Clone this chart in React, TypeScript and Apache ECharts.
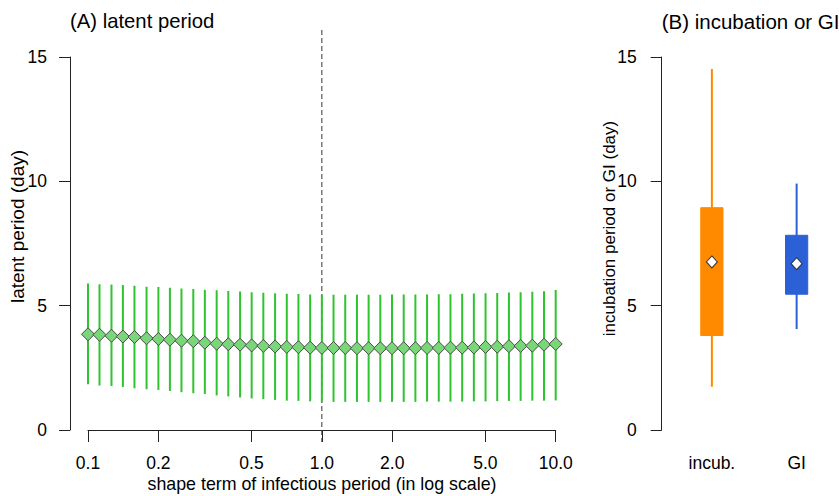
import React, { useEffect, useRef } from "react";
import * as echarts from "echarts";

// Panel A: shape term of infectious period (log grid)
const shapeTerms = [
  0.1, 0.112, 0.126, 0.141, 0.158, 0.178, 0.2, 0.224, 0.251, 0.282, 0.316,
  0.355, 0.398, 0.447, 0.501, 0.562, 0.631, 0.708, 0.794, 0.891, 1.0, 1.122,
  1.259, 1.413, 1.585, 1.778, 1.995, 2.239, 2.512, 2.818, 3.162, 3.548, 3.981,
  4.467, 5.012, 5.623, 6.31, 7.079, 7.943, 8.913, 10.0,
];
const latentMedian = [
  3.85, 3.83, 3.79, 3.76, 3.74, 3.69, 3.66, 3.63, 3.59, 3.57, 3.51, 3.47, 3.45,
  3.43, 3.4, 3.38, 3.36, 3.34, 3.33, 3.31, 3.3, 3.3, 3.3, 3.29, 3.29, 3.29,
  3.29, 3.29, 3.29, 3.3, 3.3, 3.31, 3.31, 3.32, 3.34, 3.35, 3.37, 3.38, 3.39,
  3.43, 3.46,
];
const latentUpper = [
  5.89, 5.86, 5.85, 5.83, 5.8, 5.76, 5.75, 5.72, 5.69, 5.67, 5.64, 5.62, 5.59,
  5.57, 5.54, 5.52, 5.5, 5.48, 5.47, 5.45, 5.44, 5.44, 5.44, 5.44, 5.44, 5.44,
  5.45, 5.45, 5.45, 5.45, 5.46, 5.46, 5.48, 5.49, 5.5, 5.51, 5.53, 5.54, 5.56,
  5.58, 5.63,
];
const latentLower = [
  1.84, 1.79, 1.77, 1.73, 1.68, 1.64, 1.61, 1.57, 1.52, 1.48, 1.45, 1.39, 1.35,
  1.31, 1.27, 1.24, 1.21, 1.18, 1.17, 1.15, 1.13, 1.13, 1.13, 1.13, 1.13, 1.13,
  1.13, 1.13, 1.13, 1.14, 1.14, 1.14, 1.14, 1.15, 1.15, 1.16, 1.17, 1.17, 1.18,
  1.18, 1.19,
];
const xTickValues = [0.1, 0.2, 0.5, 1.0, 2.0, 5.0, 10.0];
const referenceShape = 1.0;

// Panel B
const periodCategories = ["incub.", "GI"];
const periodColors = ["#ff8a00", "#2b60d6"];
const whiskerLow = [1.74, 4.06];
const whiskerHigh = [14.52, 9.91];
const boxLow = [3.8, 5.46];
const boxHigh = [8.94, 7.83];
const periodMedian = [6.76, 6.69];

const FONT = '"Liberation Sans", Arial, Helvetica, sans-serif';

export default function App() {
  const ref = useRef<HTMLDivElement>(null);
  useEffect(() => {
    if (!ref.current) return;
    const chart = echarts.init(ref.current, null, { renderer: "svg" });
    const axisColor = "#222";
    const yAxisCommon = {
      type: "value",
      min: 0,
      max: 15,
      interval: 5,
      splitLine: { show: false },
      axisLine: { show: true, lineStyle: { color: axisColor, width: 1 } },
      axisTick: { show: true, inside: false, length: 11, lineStyle: { color: axisColor } },
      axisLabel: { color: "#000", fontSize: 17.5, fontFamily: FONT, margin: 23 },
    };
    const option: any = {
      animation: false,
      backgroundColor: "#fff",
      textStyle: { fontFamily: FONT },
      grid: [
        { left: 88, top: 57, width: 467.7, height: 373 },
        { left: 669.5, top: 57, width: 192.6, height: 373 },
      ],
      xAxis: [
        {
          type: "log",
          logBase: 10,
          min: 0.1,
          max: 10,
          gridIndex: 0,
          splitLine: { show: false },
          axisLine: { show: true, lineStyle: { color: axisColor, width: 1 } },
          axisTick: {
            show: true,
            inside: false,
            length: 12,
            customValues: xTickValues,
            lineStyle: { color: axisColor },
          },
          axisLabel: {
            customValues: xTickValues,
            color: "#000",
            fontSize: 17.5,
            fontFamily: FONT,
            margin: 24,
            formatter: (v: number) => Number(v).toFixed(1),
          },
          minorTick: { show: false },
        },
        {
          type: "category",
          gridIndex: 1,
          data: periodCategories,
          boundaryGap: true,
          axisLine: { show: false },
          axisTick: { show: false },
          splitLine: { show: false },
          axisLabel: { color: "#000", fontSize: 17.5, fontFamily: FONT, margin: 24 },
        },
      ],
      yAxis: [
        { ...yAxisCommon, gridIndex: 0, offset: 18 },
        { ...yAxisCommon, gridIndex: 1, offset: 7.8, axisLabel: { ...yAxisCommon.axisLabel, margin: 25 } },
      ],
      graphic: [
        {
          type: "text",
          x: 70,
          y: 21,
          style: { text: "(A) latent period", font: `20.3px ${FONT}`, fill: "#000", textAlign: "left", textVerticalAlign: "middle" },
        },
        {
          type: "text",
          x: 661.7,
          y: 21,
          style: { text: "(B) incubation or GI", font: `20.5px ${FONT}`, fill: "#000", textAlign: "left", textVerticalAlign: "middle" },
        },
        {
          type: "text",
          x: 322,
          y: 484,
          style: { text: "shape term of infectious period (in log scale)", font: `17.8px ${FONT}`, fill: "#000", textAlign: "center", textVerticalAlign: "middle" },
        },
        {
          type: "text",
          x: 17,
          y: 226.5,
          rotation: Math.PI / 2,
          style: { text: "latent period (day)", font: `19px ${FONT}`, fill: "#000", textAlign: "center", textVerticalAlign: "middle" },
        },
        {
          type: "text",
          x: 609,
          y: 228.5,
          rotation: Math.PI / 2,
          style: { text: "incubation period or GI (day)", font: `17px ${FONT}`, fill: "#000", textAlign: "center", textVerticalAlign: "middle" },
        },
      ],
      series: [
        {
          type: "custom",
          xAxisIndex: 0,
          yAxisIndex: 0,
          clip: false,
          silent: true,
          data: [[referenceShape]],
          renderItem: (params: any, api: any) => {
            const x = api.coord([api.value(0), 0])[0];
            const cs = params.coordSys;
            return {
              type: "line",
              shape: { x1: x, y1: cs.y - 27, x2: x, y2: cs.y + cs.height + 12 },
              style: { stroke: "#333", lineWidth: 1, lineDash: [5, 3] },
            };
          },
        },
        {
          type: "custom",
          xAxisIndex: 0,
          yAxisIndex: 0,
          clip: false,
          encode: { x: 0, y: [1, 2] },
          data: shapeTerms.map((s, i) => [s, latentLower[i], latentUpper[i]]),
          renderItem: (_params: any, api: any) => {
            const p1 = api.coord([api.value(0), api.value(1)]);
            const p2 = api.coord([api.value(0), api.value(2)]);
            return {
              type: "line",
              shape: { x1: p1[0], y1: p1[1], x2: p2[0], y2: p2[1] },
              style: { stroke: "#2fc42f", lineWidth: 2 },
            };
          },
        },
        {
          type: "scatter",
          xAxisIndex: 0,
          yAxisIndex: 0,
          clip: false,
          symbol: "diamond",
          symbolSize: [13, 13],
          itemStyle: { color: "#79d679", borderColor: "#4a4a4a", borderWidth: 1, opacity: 1 },
          data: shapeTerms.map((s, i) => [s, latentMedian[i]]),
        },
        {
          type: "custom",
          xAxisIndex: 1,
          yAxisIndex: 1,
          clip: false,
          encode: { x: 0, y: [1, 2, 3, 4] },
          data: periodCategories.map((_c, i) => [i, whiskerLow[i], whiskerHigh[i], boxLow[i], boxHigh[i]]),
          renderItem: (params: any, api: any) => {
            const idx = api.value(0);
            const color = periodColors[params.dataIndex];
            const wl = api.coord([idx, api.value(1)]);
            const wh = api.coord([idx, api.value(2)]);
            const bl = api.coord([idx, api.value(3)]);
            const bh = api.coord([idx, api.value(4)]);
            const bw = api.size([1, 0])[0] * 0.262;
            return {
              type: "group",
              children: [
                {
                  type: "line",
                  shape: { x1: wl[0], y1: wl[1], x2: wh[0], y2: wh[1] },
                  style: { stroke: color, lineWidth: 2 },
                },
                {
                  type: "rect",
                  shape: { x: bh[0] - bw / 2, y: bh[1], width: bw, height: bl[1] - bh[1] },
                  style: { fill: color, stroke: color, lineWidth: 1 },
                },
              ],
            };
          },
        },
        {
          type: "scatter",
          xAxisIndex: 1,
          yAxisIndex: 1,
          clip: false,
          symbol: "diamond",
          symbolSize: [11, 12],
          itemStyle: { color: "#fff", borderColor: "#333", borderWidth: 1, opacity: 1 },
          data: periodCategories.map((_c, i) => [i, periodMedian[i]]),
        },
      ],
    };
    chart.setOption(option);
    return () => chart.dispose();
  }, []);
  return (
    <div
      ref={ref}
      style={{ position: "fixed", left: 0, top: 0, width: 839, height: 496, background: "#fff" }}
    />
  );
}
